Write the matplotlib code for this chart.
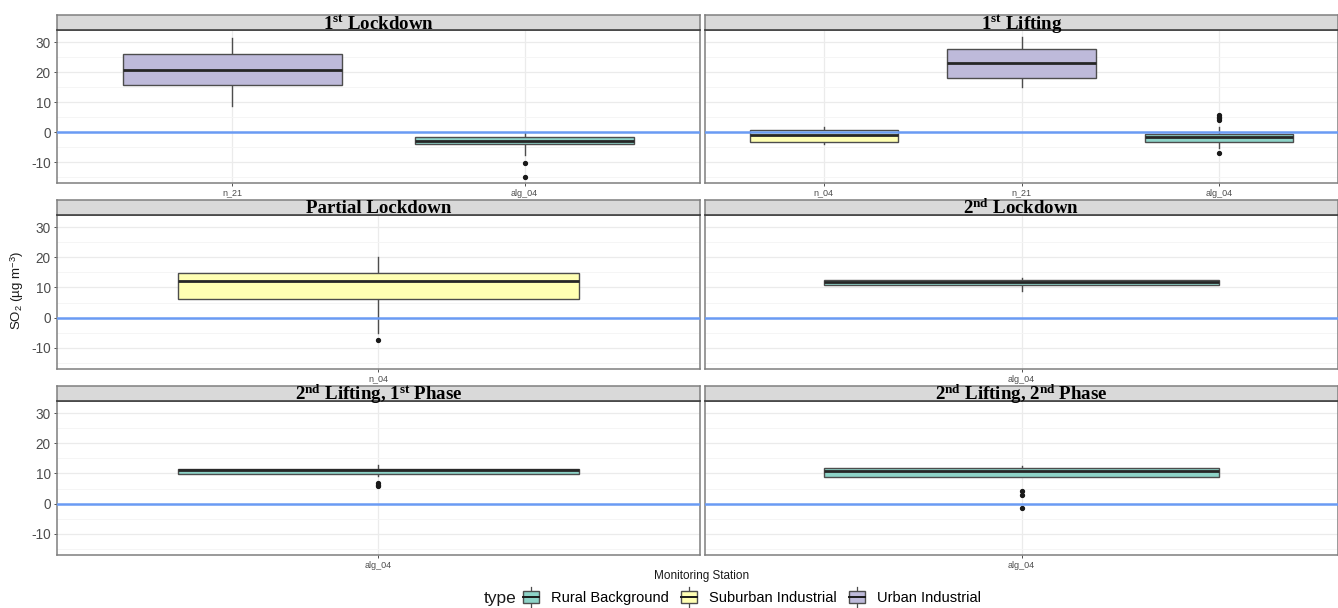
import matplotlib
matplotlib.use("Agg")
import matplotlib.pyplot as plt
from matplotlib.patches import Rectangle, Patch
from matplotlib.lines import Line2D
from matplotlib.legend_handler import HandlerBase

plt.rcParams["font.family"] = ["Liberation Sans", "DejaVu Sans"]
plt.rcParams["mathtext.fontset"] = "custom"
plt.rcParams["mathtext.rm"] = "Liberation Serif:bold"
plt.rcParams["mathtext.bf"] = "Liberation Serif:bold"
plt.rcParams["mathtext.it"] = "Liberation Serif:italic:bold"
plt.rcParams["mathtext.sf"] = "Liberation Sans"

# ---- data -------------------------------------------------------------
periods = [
    r"1$^{\mathrm{st}}$ Lockdown",
    r"1$^{\mathrm{st}}$ Lifting",
    "Partial Lockdown",
    r"2$^{\mathrm{nd}}$ Lockdown",
    r"2$^{\mathrm{nd}}$ Lifting, 1$^{\mathrm{st}}$ Phase",
    r"2$^{\mathrm{nd}}$ Lifting, 2$^{\mathrm{nd}}$ Phase",
]
stations = [["n_21", "alg_04"], ["n_04", "n_21", "alg_04"], ["n_04"],
            ["alg_04"], ["alg_04"], ["alg_04"]]
station_types = [["Urban Industrial", "Rural Background"],
                 ["Suburban Industrial", "Urban Industrial", "Rural Background"],
                 ["Suburban Industrial"], ["Rural Background"],
                 ["Rural Background"], ["Rural Background"]]
whisker_low = [[8.7, -7.7], [-4.0, 15.1, -5.4], [-5.2], [8.7], [9.1], [8.7]]
q1 = [[15.7, -4.1], [-3.3, 18.0, -3.4], [6.1], [10.8], [9.7], [8.7]]
median = [[20.6, -2.9], [-0.9, 23.1, -1.7], [12.1], [11.7], [11.0], [10.7]]
q3 = [[26.0, -1.8], [0.7, 27.6, -0.8], [14.7], [12.6], [11.4], [11.9]]
whisker_high = [[31.4, -0.3], [1.7, 31.7, 1.8], [20.0], [13.0], [12.8], [12.4]]
outliers = [[[], [-10.2, -14.9]],
            [[], [], [5.6, 5.1, 4.6, 4.0, -7.1]],
            [[-7.4]], [[]], [[6.8, 6.2, 6.0]], [[4.1, 3.0, -1.6]]]

type_names = ["Rural Background", "Suburban Industrial", "Urban Industrial"]
type_colors = ["#8DD3C7", "#FFFFB3", "#BEBADA"]
y_ticks = [-10, 0, 10, 20, 30]

# ---- layout ------------------------------------------------------------
W, H = 1338, 608
fig = plt.figure(figsize=(W / 100, H / 100), dpi=100)

cols = [(57, 700), (705, 1338)]
rows = [(30, 183), (215, 369), (401, 555)]
strip_h = 15


def rect(x0, x1, y0, y1):
    return [x0 / W, 1 - y1 / H, (x1 - x0) / W, (y1 - y0) / H]


edge = "#4D4D4D"
border = "#7F7F7F"
color_of = dict(zip(type_names, type_colors))

for i, title in enumerate(periods):
    r, c = divmod(i, 2)
    x0, x1 = cols[c]
    y0, y1 = rows[r]
    ax = fig.add_axes(rect(x0, x1, y0, y1))
    n = len(stations[i])
    pos = list(range(1, n + 1))

    stats = []
    for k in range(n):
        stats.append(dict(med=median[i][k], q1=q1[i][k], q3=q3[i][k],
                          whislo=whisker_low[i][k], whishi=whisker_high[i][k],
                          fliers=outliers[i][k]))
    bp = ax.bxp(stats, positions=pos, widths=0.75, patch_artist=True,
                showcaps=False,
                boxprops=dict(edgecolor=edge, linewidth=1.0),
                whiskerprops=dict(color=edge, linewidth=1.0),
                medianprops=dict(color="#262626", linewidth=2.0),
                flierprops=dict(marker="o", markersize=2.8,
                                markerfacecolor="#1A1A1A",
                                markeredgecolor="#1A1A1A"))
    for patch, t in zip(bp["boxes"], station_types[i]):
        patch.set_facecolor(color_of[t])
        patch.set_zorder(3)
    for ln in bp["medians"]:
        ln.set_zorder(4)

    ax.axhline(0, color="#6A9BF4", linewidth=1.8, zorder=5)

    ax.set_xlim(0.4, n + 0.6)
    ax.set_ylim(-17, 34)
    ax.set_xticks(pos)
    ax.set_xticklabels(stations[i], fontsize=6.5, color="#4D4D4D")
    ax.set_yticks(y_ticks)
    ax.set_yticks([-15, -5, 5, 15, 25], minor=True)
    ax.tick_params(axis="y", which="minor", length=0)
    ax.tick_params(axis="x", length=2.5, width=0.6, color="#333333", pad=1.5)
    if c == 0:
        ax.set_yticklabels([str(v) for v in y_ticks], fontsize=9.8,
                           color="#4D4D4D")
        ax.tick_params(axis="y", which="major", length=2.5, width=0.6,
                       color="#333333", pad=2)
    else:
        ax.tick_params(axis="y", which="major", length=0, labelleft=False)

    ax.grid(True, which="major", color="#EBEBEB", linewidth=0.9, zorder=0)
    ax.grid(True, which="minor", axis="y", color="#F4F4F4", linewidth=0.6,
            zorder=0)
    ax.set_axisbelow(True)
    for s in ax.spines.values():
        s.set_color(border)
        s.set_linewidth(1.1)

    sax = fig.add_axes(rect(x0, x1, y0 - strip_h, y0))
    sax.set_facecolor("#D9D9D9")
    sax.set_xticks([])
    sax.set_yticks([])
    for s in sax.spines.values():
        s.set_color(border)
        s.set_linewidth(1.1)
    sax.spines["bottom"].set_color("#333333")
    sax.text(0.5, 0.42, title, ha="center", va="center",
             fontsize=13.6, fontweight="bold", family="Liberation Serif",
             transform=sax.transAxes)

# axis titles
fig.text(17 / W, 1 - 290 / H, r"SO$_{\mathsf{2}}$ (µg m$^{\mathsf{-3}}$)",
         rotation=90, ha="center", va="center", fontsize=9.5, color="#1A1A1A")
fig.text(702 / W, 1 - 576 / H, "Monitoring Station", ha="center",
         va="center", fontsize=8.5, color="#1A1A1A")


# legend keys drawn like small boxplots
class BoxKey(HandlerBase):
    def create_artists(self, legend, orig_handle, xdescent, ydescent,
                       width, height, fontsize, trans):
        x0, y0 = -xdescent, -ydescent
        cx = x0 + width / 2
        bw = width * 0.85
        bh = height * 1.25
        by = y0 + height / 2 - bh / 2
        whisk1 = Line2D([cx, cx], [by - height * 0.35, by], color=edge,
                        linewidth=0.9, transform=trans)
        whisk2 = Line2D([cx, cx], [by + bh, by + bh + height * 0.35],
                        color=edge, linewidth=0.9, transform=trans)
        box = Rectangle((cx - bw / 2, by), bw, bh,
                        facecolor=orig_handle.get_facecolor(),
                        edgecolor=edge, linewidth=1.0, transform=trans)
        med = Line2D([cx - bw / 2, cx + bw / 2], [by + bh / 2, by + bh / 2],
                     color="#1A1A1A", linewidth=1.4, transform=trans)
        return [whisk1, whisk2, box, med]


handles = [Patch(facecolor=col) for col in type_colors]
fig.text(484 / W, 1 - 598 / H, "type", ha="left", va="center", fontsize=12.5,
         color="#1A1A1A")
fig.legend(handles, type_names, handler_map={Patch: BoxKey()}, ncol=3,
           loc="center left", bbox_to_anchor=(522 / W, 1 - 598 / H),
           frameon=False, fontsize=10.5, handlelength=1.25,
           handleheight=0.7, handletextpad=0.75, columnspacing=0.75,
           borderpad=0, borderaxespad=0)

fig.savefig("out.png", dpi=100)
